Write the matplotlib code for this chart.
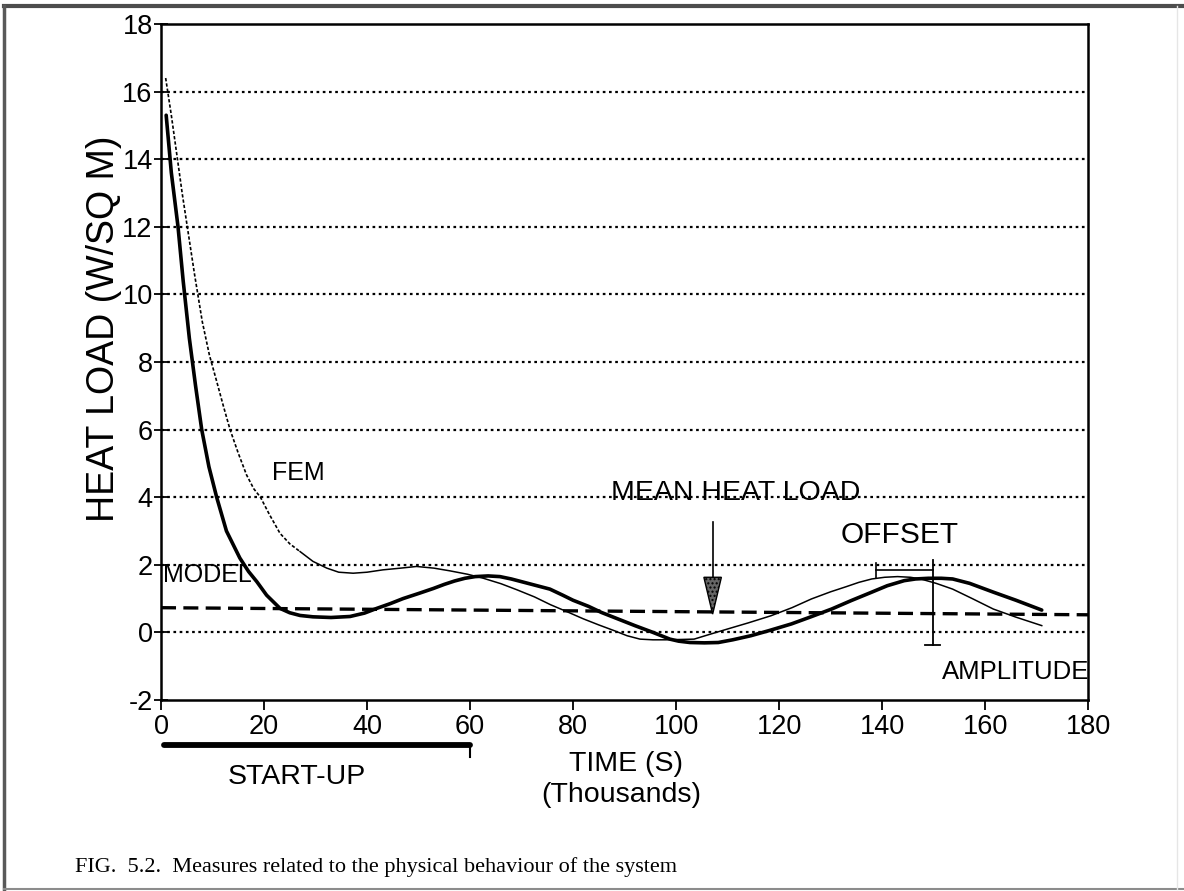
import numpy as np
import matplotlib.pyplot as plt
from matplotlib.lines import Line2D
from matplotlib.patches import Polygon

# values (time in thousands of seconds, heat load in W/sq m)
model_t = [1.0, 2.0, 3.3, 4.3, 5.5, 6.7, 7.9, 9.3, 10.8, 12.7, 15.3, 17.0, 18.6, 20.5,
           23.1, 25.0, 27.0, 29.5, 33.0, 36.7, 39.5, 41.9, 44.5, 47.0, 50.0, 52.9,
           55.0, 57.0, 59.0, 61.0, 63.5, 65.8, 68.0, 70.0, 72.5, 75.5, 78.0, 80.0,
           83.0, 85.5, 89.0, 92.0, 95.5, 98.8, 100.5, 102.7, 105.5, 108.2, 111.0,
           114.5, 118.0, 122.4, 126.0, 130.2, 134.0, 138.0, 141.0, 144.3, 146.5,
           149.0, 151.5, 153.7, 157.0, 161.6, 166.0, 171.0]
model_q = [15.3, 13.6, 12.0, 10.4, 8.7, 7.3, 6.0, 4.9, 4.0, 3.0, 2.2, 1.8, 1.5, 1.1,
           0.71, 0.58, 0.5, 0.46, 0.44, 0.47, 0.57, 0.71, 0.85, 1.0, 1.15, 1.30,
           1.42, 1.52, 1.6, 1.65, 1.67, 1.65, 1.58, 1.5, 1.4, 1.28, 1.1, 0.95,
           0.77, 0.59, 0.38, 0.2, 0.0, -0.2, -0.26, -0.3, -0.31, -0.3, -0.22,
           -0.1, 0.05, 0.25, 0.45, 0.69, 0.94, 1.19, 1.38, 1.53, 1.58,
           1.6, 1.6, 1.58, 1.45, 1.19, 0.95, 0.66]

fem_t = [0.9, 2.0, 3.1, 4.1, 5.1, 6.5, 8.0, 9.4, 10.8, 12.1, 13.4, 15.0, 16.6, 18.0,
         19.3, 21.0, 23.1, 25.0, 27.0, 29.5, 32.2, 34.5, 37.3, 40.0, 43.1, 46.5,
         49.6, 53.0, 56.1, 59.5, 62.6, 66.0, 69.1, 72.5, 75.6, 79.0, 82.0, 85.0,
         88.0, 90.5, 93.0, 95.5, 98.0, 101.0, 103.5, 106.5, 110.0, 114.0, 118.4,
         122.5, 126.3, 130.0, 133.0, 135.5, 138.0, 140.5, 143.0, 145.5, 147.5,
         150.5, 153.7, 157.5, 161.6, 166.0, 171.0]
fem_q = [16.4, 15.3, 14.1, 13.0, 12.0, 10.6, 9.2, 8.2, 7.43, 6.7, 6.0, 5.3, 4.66, 4.25,
         4.0, 3.5, 2.93, 2.62, 2.39, 2.1, 1.9, 1.78, 1.75, 1.78, 1.85, 1.9,
         1.95, 1.9, 1.82, 1.72, 1.6, 1.44, 1.26, 1.05, 0.82, 0.6, 0.4, 0.22,
         0.05, -0.1, -0.2, -0.22, -0.22, -0.21, -0.2, -0.06, 0.1, 0.28, 0.49,
         0.73, 0.99, 1.2, 1.35, 1.48, 1.58, 1.63, 1.65, 1.63, 1.58,
         1.45, 1.28, 1.0, 0.69, 0.45, 0.2]

mean_t = [0, 180]
mean_q = [0.73, 0.52]

startup_end = 60
offset_t = [138.8, 149.8]
offset_q = 1.85
amp_t = 149.8
amp_q = [2.15, -0.36]
arrow_t = 107.1
arrow_q = [3.26, 1.63, 0.54]

xticks = list(range(0, 181, 20))
yticks = list(range(-2, 19, 2))

plt.rcParams['font.family'] = ['Liberation Sans', 'DejaVu Sans']
plt.rcParams['axes.unicode_minus'] = False

fig = plt.figure(figsize=(11.84, 8.91), dpi=100)
ax = fig.add_axes([0.136, 0.2144, 0.783, 0.7587])

# gridlines (dotted) at the inner ticks
for q in yticks[1:-1]:
    ax.axhline(q, color='black', lw=1.6, ls=(0, (1.2, 1.6)), zorder=1)

# mean heat load
ax.plot(mean_t, mean_q, color='black', lw=2.4, dashes=(4.5, 2.2), zorder=2)

# FEM: dotted during the fast drop, thin solid afterwards
fem_t = np.array(fem_t)
fem_q = np.array(fem_q)
early = fem_t <= 27.0
late = fem_t >= 27.0
ax.plot(fem_t[early], fem_q[early], color='black', lw=1.2, ls=(0, (2, 1.2)), zorder=3)
ax.plot(fem_t[late], fem_q[late], color='black', lw=1.1, zorder=3)

# model
ax.plot(model_t, model_q, color='black', lw=2.6, zorder=4,
        solid_joinstyle='round', solid_capstyle='round')

# offset bracket and amplitude bar
ax.plot(offset_t, [offset_q, offset_q], color='black', lw=1.2, zorder=5)
ax.plot([offset_t[0], offset_t[0]], [1.6, 2.05], color='black', lw=1.2, zorder=5)
ax.plot([amp_t, amp_t], amp_q, color='black', lw=1.3, zorder=5)
ax.plot([amp_t - 1.5, amp_t + 1.5], [amp_q[1], amp_q[1]], color='black', lw=1.3, zorder=5)

# mean heat load arrow
ax.plot([arrow_t, arrow_t], arrow_q[:2], color='black', lw=1.2, zorder=5)
tri = Polygon([[arrow_t - 1.7, arrow_q[1]], [arrow_t + 1.7, arrow_q[1]], [arrow_t, arrow_q[2]]],
              closed=True, facecolor='0.4', edgecolor='black', lw=1.0, hatch='....', zorder=6)
ax.add_patch(tri)

# labels inside the plot
ax.text(26.6, 4.71, 'FEM', fontsize=18, ha='center', va='center')
ax.text(0.4, 1.7, 'MODEL', fontsize=18, ha='left', va='center')
ax.text(111.6, 4.12, 'MEAN HEAT LOAD', fontsize=20.5, ha='center', va='center')
ax.text(143.4, 2.89, 'OFFSET', fontsize=21.5, ha='center', va='center')
ax.text(180.3, -1.17, 'AMPLITUDE', fontsize=18.5, ha='right', va='center')

# start-up bar below the axis
ax.plot([0.5, startup_end], [-3.33, -3.33], color='black', lw=4.2,
        solid_capstyle='round', clip_on=False)
ax.plot([startup_end, startup_end], [-3.33, -3.7], color='black', lw=1.5, clip_on=False)
ax.text(26.3, -4.28, 'START-UP', fontsize=20.5, ha='center', va='center', clip_on=False)
ax.text(90.2, -3.89, 'TIME (S)', fontsize=20.5, ha='center', va='center', clip_on=False)
ax.text(89.4, -4.81, '(Thousands)', fontsize=20.5, ha='center', va='center', clip_on=False)

ax.set_xlim(0, 180)
ax.set_ylim(-2, 18)
ax.set_xticks(xticks)
ax.set_yticks(yticks)
ax.tick_params(axis='x', direction='out', length=7, width=1.3, labelsize=19.5, pad=3)
ax.tick_params(axis='y', direction='inout', length=10, width=1.3, labelsize=19.5, pad=1)
for s in ax.spines.values():
    s.set_linewidth(1.8)

fig.text(0.088, 0.631, 'HEAT LOAD (W/SQ M)', rotation=90, fontsize=27,
         ha='center', va='center')

fig.text(75 / 1184, 1 - 867 / 891, 'FIG.  5.2.  Measures related to the physical behaviour of the system',
         fontsize=16, family=['Liberation Serif', 'DejaVu Serif'], ha='left', va='center')

# page frame around the figure
def px(x, y):
    return x / 1184, 1 - y / 891

for (x0, y0), (x1, y1), c, w in [
        ((4, 6), (1184, 6), '0.3', 3.0),
        ((4, 6), (4, 889), '0.35', 2.5),
        ((4, 889), (1184, 889), '0.55', 1.5),
        ((1177, 6), (1177, 889), '0.9', 1.0)]:
    a, b = px(x0, y0)
    c2, d = px(x1, y1)
    fig.add_artist(Line2D([a, c2], [b, d], color=c, lw=w, transform=fig.transFigure))

fig.savefig('out.png', dpi=100)
